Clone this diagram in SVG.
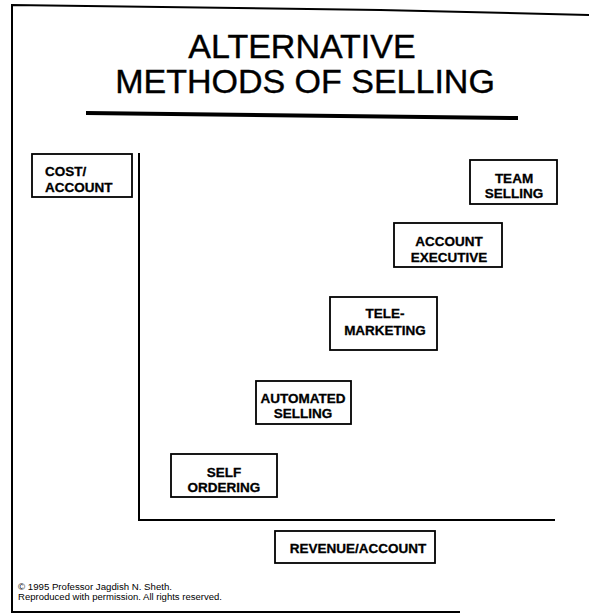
<svg xmlns="http://www.w3.org/2000/svg" width="589" height="614" viewBox="0 0 589 614">
<style>
.frame{fill:none;stroke:#000;stroke-width:2}
.box{fill:#fff;stroke:#000;stroke-width:1.8}
.axis{fill:none;stroke:#000;stroke-width:2}
.lbl{font-family:"Liberation Sans",Arial,sans-serif;font-weight:bold;font-size:13.5px;fill:#000;stroke:#000;stroke-width:0.3;text-anchor:middle}
.title{font-family:"Liberation Sans",Arial,sans-serif;font-size:34px;fill:#000;stroke:#000;stroke-width:0.4;text-anchor:middle}
.foot{font-family:"Liberation Sans",Arial,sans-serif;font-size:8.5px;fill:#000}
</style>
<rect width="589" height="614" fill="#fff"/>
<g id="frame">
<polyline class="frame" points="589,15 380,10 12,5 12,612 460,612"/>
</g>
<g id="title">
<text class="title" x="302" y="58">ALTERNATIVE</text>
<text class="title" x="305" y="93">METHODS OF SELLING</text>
<line x1="86" y1="113" x2="518" y2="118" stroke="#000" stroke-width="4"/>
</g>
<g id="connectors">
<polyline class="axis" points="139,153 139,520 555,520"/>
</g>
<g id="cost-account">
<rect class="box" x="32" y="154" width="100" height="43"/>
<text class="lbl" x="45" y="176" style="text-anchor:start">COST/</text>
<text class="lbl" x="45" y="192" style="text-anchor:start">ACCOUNT</text>
</g>
<g id="team-selling">
<rect class="box" x="470" y="160" width="87" height="44"/>
<text class="lbl" x="514" y="183">TEAM</text>
<text class="lbl" x="514" y="198">SELLING</text>
</g>
<g id="account-executive">
<rect class="box" x="394" y="223" width="108" height="44"/>
<text class="lbl" x="449" y="246">ACCOUNT</text>
<text class="lbl" x="449" y="262">EXECUTIVE</text>
</g>
<g id="telemarketing">
<rect class="box" x="330" y="297" width="107" height="53"/>
<text class="lbl" x="385" y="318">TELE-</text>
<text class="lbl" x="385" y="335">MARKETING</text>
</g>
<g id="automated-selling">
<rect class="box" x="256" y="381" width="95" height="43"/>
<text class="lbl" x="303" y="403">AUTOMATED</text>
<text class="lbl" x="303" y="418">SELLING</text>
</g>
<g id="self-ordering">
<rect class="box" x="171" y="454" width="106" height="43"/>
<text class="lbl" x="224" y="477">SELF</text>
<text class="lbl" x="224" y="492">ORDERING</text>
</g>
<g id="revenue-account">
<rect class="box" x="275" y="531" width="160" height="32"/>
<text class="lbl" x="358" y="553">REVENUE/ACCOUNT</text>
</g>
<g id="footer">
<text class="foot" x="18" y="590" textLength="154" lengthAdjust="spacingAndGlyphs">© 1995 Professor Jagdish N. Sheth.</text>
<text class="foot" x="18" y="600" textLength="204" lengthAdjust="spacingAndGlyphs">Reproduced with permission. All rights reserved.</text>
</g>
</svg>
